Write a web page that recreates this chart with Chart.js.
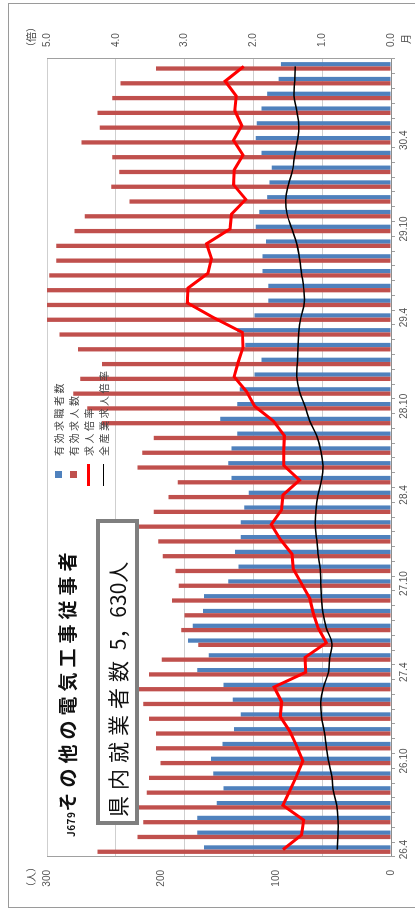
<!DOCTYPE html>
<html lang="ja">
<head>
<meta charset="utf-8">
<title>J679 その他の電気工事従事者</title>
<script src="https://cdn.jsdelivr.net/npm/chart.js@4.4.1/dist/chart.umd.min.js"></script>
<style>
  html, body { margin: 0; padding: 0; background: #fff; overflow: hidden; }
  body { width: 415px; height: 910px; position: relative; }
  /* the sheet is laid out landscape (910 x 415) and turned a quarter turn to the left */
  #sheet {
    position: absolute; left: 0; top: 0; width: 910px; height: 415px;
    transform-origin: 0 0; transform: translate(0, 910px) rotate(-90deg);
    font-family: "Noto Sans CJK JP", "Noto Sans", sans-serif; color: #222;
  }
  #frame { position: absolute; left: 2px; top: 8px; width: 905px; height: 420px; border: 1.5px solid #9a9a9a; box-sizing: border-box; }
  canvas { position: absolute; left: 0; top: 0; }
  .lbl { position: absolute; font-size: 10px; color: #444; white-space: nowrap; }
  #title { position: absolute; left: 73px; top: 53px; white-space: nowrap; font-weight: 700; color: #111; }
  #title .code { font-size: 10px; letter-spacing: 0.5px; }
  #title .name { font-size: 19px; letter-spacing: 5px; }
  #box {
    position: absolute; left: 85px; top: 96px; width: 306px; height: 43px; box-sizing: border-box;
    border: 4px solid #7f7f7f; background: #fff; font-size: 21px; line-height: 35px; padding-left: 4px; white-space: nowrap; color: #111;
  }
  #box .ja { letter-spacing: 6px; }
  #legend { position: absolute; left: 424px; top: 51px; font-size: 10px; color: #444; }
  #legend .item { height: 15px; line-height: 15px; display: flex; align-items: center; white-space: nowrap; letter-spacing: 2.5px; }
  #legend .mk { width: 22px; margin-right: 8px; display: flex; justify-content: center; }
</style>
</head>
<body>
<div id="sheet">
  <div id="frame"></div>
  <canvas id="chart" width="910" height="415"></canvas>
  <div class="lbl" style="left:18px; top:23px;">（人）</div>
  <div class="lbl" style="left:858px; top:23px;">（倍）</div>
  <div class="lbl" style="left:866px; top:398px;">月</div>
  <div id="title"><span class="code">J679</span><span class="name">その他の電気工事従事者</span></div>
  <div id="box"><span class="ja">県内就業者数</span> 5，630人</div>
  <div id="legend"></div>
</div>
<script>
// Months from H26.4 to H30.9 (year.month)
const months = [
  '26.4','26.5','26.6','26.7','26.8','26.9','26.10','26.11','26.12',
  '27.1','27.2','27.3','27.4','27.5','27.6','27.7','27.8','27.9','27.10','27.11','27.12',
  '28.1','28.2','28.3','28.4','28.5','28.6','28.7','28.8','28.9','28.10','28.11','28.12',
  '29.1','29.2','29.3','29.4','29.5','29.6','29.7','29.8','29.9','29.10','29.11','29.12',
  '30.1','30.2','30.3','30.4','30.5','30.6','30.7','30.8','30.9'
];

// 有効求職者数 (people)
const jobSeekers = [
  163,169,169,152,146,155,157,147,137,131,138,146,169,159,177,173,164,163,142,133,136,131,131,128,124,139,142,
  139,134,149,134,132,119,113,127,134,119,107,107,112,112,109,118,115,108,106,104,113,118,117,113,108,98,96
];

// 有効求人数 (people)
const jobOpenings = [
  256,221,216,239,213,211,201,205,205,211,216,248,211,200,168,183,180,191,185,188,199,203,228,207,194,186,221,
  217,207,252,265,277,271,252,273,289,307,317,316,298,292,292,276,267,228,244,237,243,270,254,256,243,236,205
];

// 求人倍率 (ratio)
const jobRatio = [
  1.57,1.30,1.27,1.57,1.47,1.37,1.28,1.37,1.47,1.61,1.59,1.70,1.24,1.25,0.94,1.06,1.13,1.18,1.30,1.42,1.44,1.61,1.74,1.59,1.57,1.33,1.56,
  1.56,1.55,1.71,1.98,2.10,2.28,2.22,2.15,2.16,2.58,2.96,2.95,2.66,2.61,2.68,2.34,2.32,2.11,2.29,2.28,2.15,2.29,2.17,2.27,2.25,2.41,2.14
];

// 全産業求人倍率 (ratio)
const allIndustryRatio = [
  0.78,0.77,0.77,0.79,0.84,0.86,0.91,0.94,0.97,1.01,1.02,0.98,0.91,0.89,0.86,0.94,0.99,1.01,1.02,1.03,1.06,1.08,1.10,1.09,1.06,1.01,0.99,
  1.02,1.08,1.18,1.25,1.33,1.37,1.36,1.35,1.34,1.31,1.26,1.27,1.30,1.33,1.37,1.44,1.51,1.53,1.49,1.43,1.40,1.36,1.34,1.37,1.41,1.40,1.39
];

const peopleTicks = [0, 100, 200, 300];
const ratioTicks = [0, 1, 2, 3, 4, 5];

const BLUE = '#4F81BD', RED = '#C0504D', LINE_RED = '#FF0000', BLACK = '#000000';
const tickFont = { family: '"Liberation Sans", "DejaVu Sans", sans-serif', size: 10 };

new Chart(document.getElementById('chart'), {
  data: {
    labels: months,
    datasets: [
      { type: 'bar', label: '有効求職者数', data: jobSeekers, backgroundColor: BLUE, yAxisID: 'yPeople',
        categoryPercentage: 0.58, barPercentage: 1.0, order: 3 },
      { type: 'bar', label: '有効求人数', data: jobOpenings, backgroundColor: RED, yAxisID: 'yPeople',
        categoryPercentage: 0.58, barPercentage: 1.0, order: 2 },
      { type: 'line', label: '求人倍率', data: jobRatio, borderColor: LINE_RED, borderWidth: 3,
        pointRadius: 0, tension: 0, yAxisID: 'yRatio', order: 1 },
      { type: 'line', label: '全産業求人倍率', data: allIndustryRatio, borderColor: BLACK, borderWidth: 1.5,
        pointRadius: 0, tension: 0.4, yAxisID: 'yRatio', order: 0 }
    ]
  },
  options: {
    responsive: false,
    animation: false,
    layout: { padding: { top: 47, left: 0, right: 0, bottom: 0 } },
    plugins: { legend: { display: false }, tooltip: { enabled: false } },
    scales: {
      x: {
        type: 'category', offset: true,
        grid: { offset: true, drawOnChartArea: false, drawTicks: true, tickLength: 4, color: '#a0a0a0' },
        border: { color: '#8c8c8c', width: 1 },
        ticks: { autoSkip: false, maxRotation: 0, minRotation: 0, padding: 3, color: '#555', font: tickFont,
                 callback: (v, i) => (i % 6 === 0 ? months[i] : '') },
        afterFit: s => { s.height = 24; }
      },
      yPeople: {
        position: 'left', min: peopleTicks[0], max: peopleTicks[peopleTicks.length - 1],
        afterBuildTicks: s => { s.ticks = peopleTicks.map(v => ({ value: v })); },
        grid: { drawOnChartArea: false, drawTicks: false },
        border: { color: '#a0a0a0', width: 1 },
        ticks: { padding: 13, color: '#555', font: tickFont },
        afterFit: s => { s.width = 53; }
      },
      yRatio: {
        position: 'right', min: ratioTicks[0], max: ratioTicks[ratioTicks.length - 1],
        afterBuildTicks: s => { s.ticks = ratioTicks.map(v => ({ value: v })); },
        grid: { drawOnChartArea: true, drawTicks: false, color: '#cfcfcf' },
        border: { color: '#a0a0a0', width: 1 },
        ticks: { padding: 12, color: '#555', font: tickFont, callback: v => Number(v).toFixed(1) },
        afterFit: s => { s.width = 59; }
      }
    }
  }
});

// legend list
const legendItems = [
  { label: '有効求職者数', kind: 'box', color: BLUE },
  { label: '有効求人数', kind: 'box', color: RED },
  { label: '求人倍率', kind: 'line', color: LINE_RED, w: 3 },
  { label: '全産業求人倍率', kind: 'line', color: BLACK, w: 1.5 }
];
const lg = document.getElementById('legend');
legendItems.forEach(it => {
  const row = document.createElement('div');
  row.className = 'item';
  const mk = document.createElement('span');
  mk.className = 'mk';
  const sw = document.createElement('span');
  if (it.kind === 'box') {
    sw.style.cssText = `display:block;width:7px;height:7px;background:${it.color}`;
  } else {
    sw.style.cssText = `display:block;width:22px;height:${it.w}px;background:${it.color}`;
  }
  mk.appendChild(sw);
  row.appendChild(mk);
  row.appendChild(document.createTextNode(it.label));
  lg.appendChild(row);
});
</script>
</body>
</html>
